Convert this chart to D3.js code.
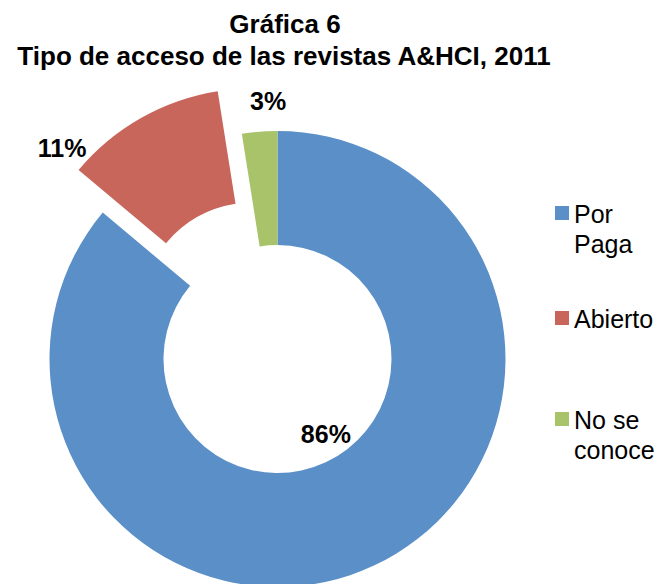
<!DOCTYPE html>
<html>
<head>
<meta charset="utf-8">
<script src="https://cdn.jsdelivr.net/npm/d3@7"></script>
<style>
  body { margin: 0; background: #fff; }
  text { font-family: "Liberation Sans", Arial, sans-serif; }
</style>
</head>
<body>
<div class="canvas"></div>
<script>
// data
const categories = ['Por Paga', 'Abierto', 'No se conoce'];
const legendLines = [['Por', 'Paga'], ['Abierto'], ['No se', 'conoce']];
const values = [86.1, 11.4, 2.5];
const labels = ['86%', '11%', '3%'];
const exploded = [false, true, false];
const colors = ['#5b8fc7', '#c9665b', '#a8c36a'];

const width = 662, height = 584;

const svg = d3.select('.canvas')
  .append('svg')
    .attr('width', width)
    .attr('height', height);

// title
const title = svg.append('text')
  .attr('text-anchor', 'middle')
  .attr('font-weight', 'bold')
  .attr('font-size', 26)
  .attr('fill', '#000');
title.append('tspan').attr('x', 285).attr('y', 33).text('Gráfica 6');
title.append('tspan').attr('x', 284).attr('y', 65).text('Tipo de acceso de las revistas A&HCI, 2011');

// donut
const cx = 277.5, cy = 359;
const outerR = 228, innerR = 114, explodeBy = 49;

const pie = d3.pie().sort(null).value(d => d);
const arcs = pie(values);

const arc = d3.arc().innerRadius(innerR).outerRadius(outerR);

const graph = svg.append('g')
  .attr('transform', `translate(${cx},${cy})`);

function shift(d, i) {
  if (!exploded[i]) return [0, 0];
  const a = (d.startAngle + d.endAngle) / 2;
  return [Math.sin(a) * explodeBy, -Math.cos(a) * explodeBy];
}

graph.selectAll('path')
  .data(arcs)
  .enter()
  .append('path')
    .attr('d', arc)
    .attr('transform', (d, i) => `translate(${shift(d, i)})`)
    .attr('fill', (d, i) => colors[i]);

// data labels: angle offset (rad) from slice middle, and radius
const labelPlace = [
  { da: -0.138, r: 89 },
  { da: -0.333, r: 255 },
  { da: 0.042, r: 258 }
];

graph.selectAll('.lbl')
  .data(arcs)
  .enter()
  .append('text')
    .attr('class', 'lbl')
    .attr('text-anchor', 'middle')
    .attr('font-weight', 'bold')
    .attr('font-size', 25)
    .attr('fill', '#000')
    .attr('transform', (d, i) => {
      const p = labelPlace[i];
      const a = (d.startAngle + d.endAngle) / 2 + p.da;
      const s = shift(d, i);
      return `translate(${s[0] + Math.sin(a) * p.r},${s[1] - Math.cos(a) * p.r + 9})`;
    })
    .text((d, i) => labels[i]);

// legend
const legendY = [223, 328, 429];
const legend = svg.append('g');
categories.forEach((c, i) => {
  const g = legend.append('g').attr('transform', `translate(555,${legendY[i]})`);
  g.append('rect')
    .attr('x', 0).attr('y', -17)
    .attr('width', 14).attr('height', 14)
    .attr('fill', colors[i]);
  const t = g.append('text')
    .attr('font-size', 25)
    .attr('fill', '#000');
  legendLines[i].forEach((line, j) => {
    t.append('tspan').attr('x', 19).attr('y', j * 30).text(line);
  });
});
</script>
</body>
</html>
